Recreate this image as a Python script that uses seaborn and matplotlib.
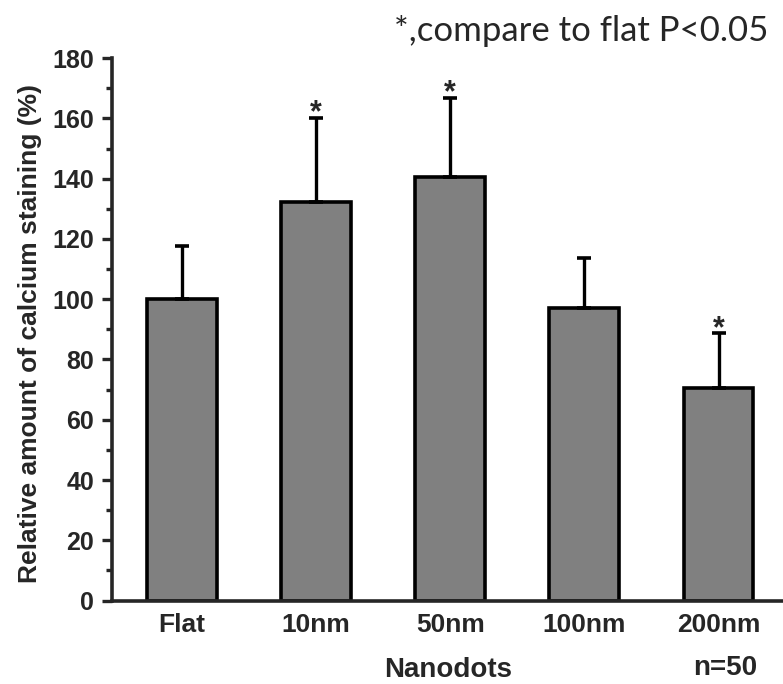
import matplotlib
matplotlib.use("Agg")
import matplotlib.pyplot as plt
import seaborn as sns
import numpy as np
import pandas as pd
from matplotlib.ticker import MultipleLocator

categories = ["Flat", "10nm", "50nm", "100nm", "200nm"]
values = [100.0, 132.2, 140.7, 97.0, 70.7]
errors = [17.5, 28.1, 26.2, 16.8, 18.0]
significant = [False, True, True, False, True]

sns.set_style("ticks")
plt.rcParams['font.family'] = ['Liberation Sans', 'DejaVu Sans']

fig = plt.figure(figsize=(7.83, 6.84), dpi=100)
ax = fig.add_axes([0.143, 0.122, 0.857, 0.793])

df = pd.DataFrame({"cat": categories, "val": values})
sns.barplot(data=df, x="cat", y="val", color="#808080", edgecolor="black",
            linewidth=2.6, width=0.52, ax=ax, saturation=1)
for p in ax.patches:
    p.set_facecolor("#808080")

xpos = np.arange(len(categories))
ax.errorbar(xpos, values, yerr=[np.zeros(len(errors)), errors], fmt="none",
            ecolor="black", elinewidth=2.4, capsize=5, capthick=2.6, zorder=1)

for x, v, e, s in zip(xpos, values, errors, significant):
    if s:
        ax.text(x, v + e - 1.2, "*", ha="center", va="baseline",
                fontsize=22, fontweight="bold")

ax.set_xlim(-0.52, 4.48)
ax.set_ylim(0, 180)
ax.yaxis.set_major_locator(MultipleLocator(20))
ax.yaxis.set_minor_locator(MultipleLocator(10))
ax.tick_params(axis="y", which="major", length=7, width=2.4, labelsize=18, pad=6)
ax.tick_params(axis="y", which="minor", length=4.5, width=2.4)
ax.tick_params(axis="x", length=0, labelsize=19, pad=9)
for lab in ax.get_xticklabels() + ax.get_yticklabels():
    lab.set_fontweight("bold")

for side in ["top", "right"]:
    ax.spines[side].set_visible(False)
for side in ["left", "bottom"]:
    ax.spines[side].set_linewidth(2.6)

ax.set_xlabel("")
ax.set_ylabel("Relative amount of calcium staining (%)", fontsize=19, fontweight="bold")
ax.yaxis.set_label_coords(-0.104, 0.493)

fig.text(448 / 783, 1 - 677 / 684, "Nanodots", ha="center", va="baseline",
         fontsize=20, fontweight="bold")
fig.text(725 / 783, 1 - 675 / 684, "n=50", ha="center", va="baseline",
         fontsize=20, fontweight="bold")
fig.text(0.981, 0.955, "*,compare to flat P<0.05", ha="right", va="center",
         fontsize=25, family=["Lato", "DejaVu Sans"])

fig.savefig("out.png", dpi=100)
